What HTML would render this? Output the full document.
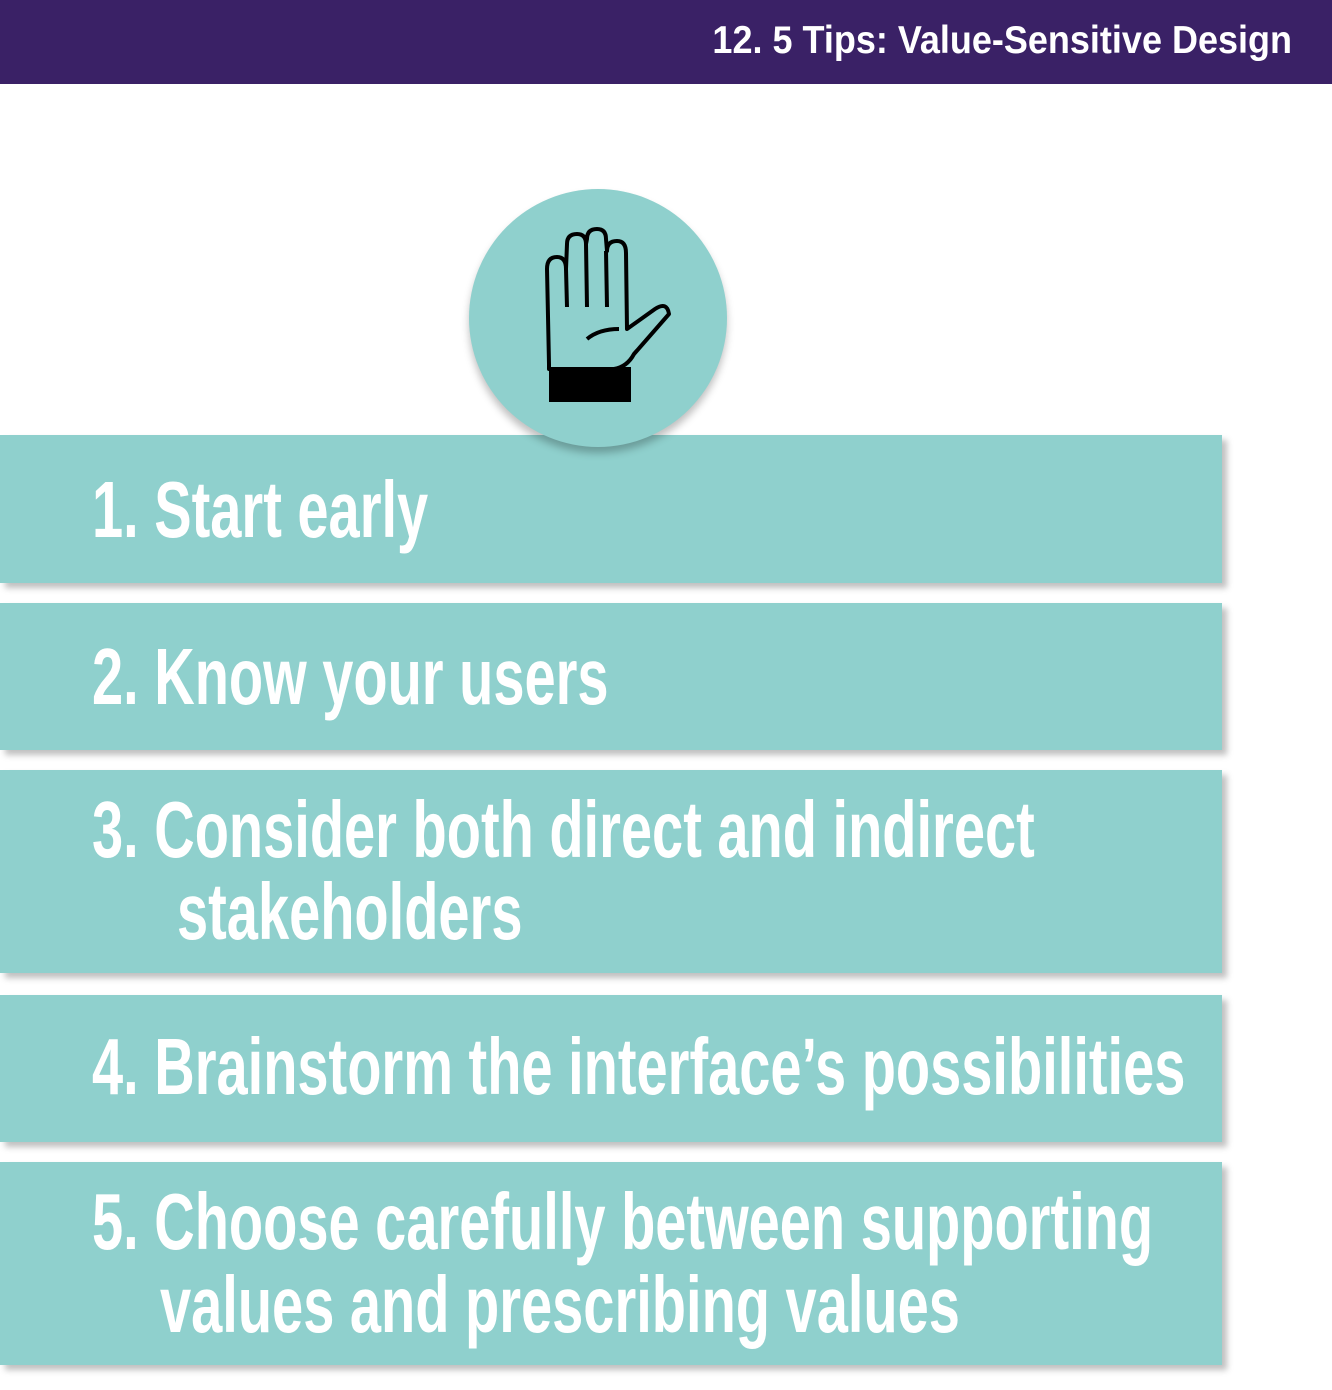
<!DOCTYPE html>
<html><head><meta charset="utf-8"><style>
body{margin:0;width:1332px;height:1390px;background:#fff;position:relative;overflow:hidden;font-family:"Liberation Sans",sans-serif}
.hdr{position:absolute;left:0;top:0;width:1332px;height:84px;background:#3a2166}
.ttl{position:absolute;right:40px;top:19px;color:#fff;font-weight:bold;font-size:36px;white-space:nowrap;transform:scaleY(1.08)}
.bar{position:absolute;left:0;width:1222px;background:#8fd0cd;box-shadow:5px 5px 6px rgba(0,0,0,0.25)}
.t{position:absolute;color:#fff;font-weight:bold;font-size:80px;line-height:80px;white-space:nowrap;transform:scaleX(0.70);transform-origin:0 0}
.circ{position:absolute;left:469px;top:189px;width:258px;height:258px;border-radius:50%;background:#8fd0cd;box-shadow:0 6px 8px rgba(0,0,0,0.25)}
</style></head><body>
<div class="hdr"><div class="ttl">12. 5 Tips: Value-Sensitive Design</div></div>
<div class="bar" style="top:435px;height:148px"></div>
<div class="bar" style="top:603px;height:147px"></div>
<div class="bar" style="top:770px;height:203px"></div>
<div class="bar" style="top:995px;height:147px"></div>
<div class="bar" style="top:1162px;height:203px"></div>
<div class="circ">
<svg width="258" height="258" viewBox="0 0 258 258">
<g fill="none" stroke="#000" stroke-width="4" stroke-linejoin="round">
<path d="M80 175 L78 80 Q78 68 88 68 Q97 68 97 80 L98 55 Q98 45 108 45 Q117 45 117 55 L118 50 Q118 40 128 40 Q137 40 137 50 L138 62 Q138 52 148 52 Q157 52 157 64 L158 140 L186 120 Q198 112 200 125 L165 165 Q158 178 145 180 L80 180 Z"/>
<path d="M97 80 L98 118 M117 55 L118 118 M137 62 L138 118"/>
<path d="M118 150 Q130 140 150 140"/>
</g>
<rect x="80" y="178" width="82" height="35" fill="#000"/>
</svg></div>
<div class="t" style="left:92px;top:470px">1. Start early</div>
<div class="t" style="left:92px;top:637px">2. Know your users</div>
<div class="t" style="left:92px;top:790px">3. Consider both direct and indirect</div>
<div class="t" style="left:177px;top:872px">stakeholders</div>
<div class="t" style="left:92px;top:1027px">4. Brainstorm the interface’s possibilities</div>
<div class="t" style="left:92px;top:1182px">5. Choose carefully between supporting</div>
<div class="t" style="left:160px;top:1265px">values and prescribing values</div>
</body></html>
